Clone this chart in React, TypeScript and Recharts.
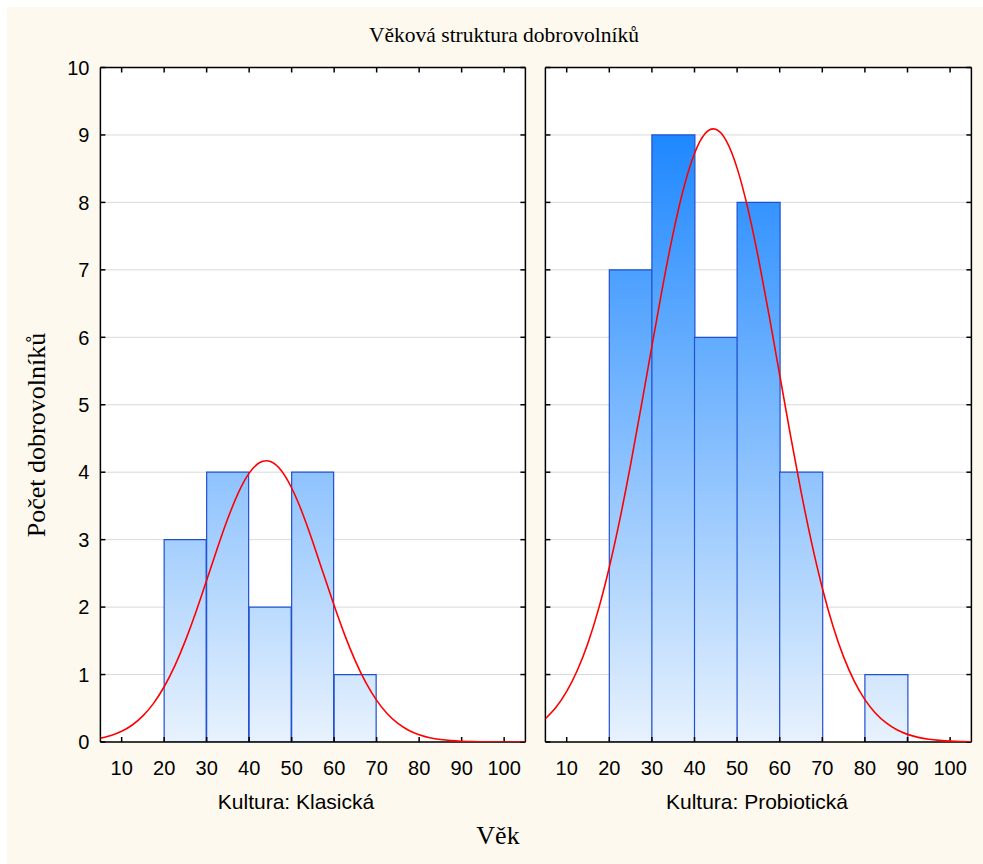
import React from 'react';
import { ComposedChart, LineChart, Bar, Line, XAxis, YAxis, CartesianGrid, ReferenceLine } from 'recharts';

// ---- data ----
const titleText = 'Věková struktura dobrovolníků';
const yAxisTitle = 'Počet dobrovolníků';
const xAxisTitle = 'Věk';
const panelLabels = ['Kultura: Klasická', 'Kultura: Probiotická'];

const klasickaBinCenters = [25, 35, 45, 55, 65];
const klasickaCounts = [3, 4, 2, 4, 1];
const probiotickaBinCenters = [25, 35, 45, 55, 65, 75, 85];
const probiotickaCounts = [7, 9, 6, 8, 4, 0, 1];

const curveX = [5, 7.5, 10, 12.5, 15, 17.5, 20, 22.5, 25, 27.5, 30, 32.5, 35, 37.5, 40, 42.5, 45, 47.5, 50, 52.5, 55, 57.5, 60, 62.5, 65, 67.5, 70, 72.5, 75, 77.5, 80, 82.5, 85, 87.5, 90, 92.5, 95, 97.5, 100, 102.5, 105];
const klasickaCurve = [0.057, 0.097, 0.159, 0.252, 0.387, 0.573, 0.819, 1.129, 1.503, 1.931, 2.397, 2.869, 3.316, 3.7, 3.986, 4.144, 4.158, 4.028, 3.766, 3.4, 2.962, 2.491, 2.022, 1.585, 1.199, 0.875, 0.617, 0.42, 0.276, 0.175, 0.107, 0.063, 0.036, 0.02, 0.011, 0.005, 0.003, 0.001, 0.001, 0, 0];
const probiotickaCurve = [0.345, 0.515, 0.75, 1.064, 1.469, 1.977, 2.591, 3.307, 4.111, 4.979, 5.87, 6.744, 7.545, 8.222, 8.726, 9.021, 9.083, 8.908, 8.508, 7.916, 7.173, 6.33, 5.441, 4.556, 3.715, 2.952, 2.284, 1.72, 1.262, 0.903, 0.628, 0.426, 0.282, 0.181, 0.113, 0.069, 0.041, 0.024, 0.013, 0.007, 0.004];

const xTicks = [10, 20, 30, 40, 50, 60, 70, 80, 90, 100];
const yTicks = [0, 1, 2, 3, 4, 5, 6, 7, 8, 9, 10];
const xDomain: [number, number] = [5, 105];
const yDomain: [number, number] = [0, 10];

// ---- layout constants ----
const SVG_H = 800;
const PLOT_TOP = 67.5;
const PLOT_BOTTOM = 742;
const BOTTOM_AXIS_H = 40;
const Y_AXIS_W = 60;
const TICK_LEN = 5;

const sans = '"Liberation Sans", Arial, Helvetica, sans-serif';
const serif = '"Liberation Serif", "Times New Roman", Times, serif';

type PanelProps = {
  left: number;
  width: number;
  plotLeft: number;
  plotRight: number;
  showYLabels: boolean;
  bins: number[];
  counts: number[];
  curve: number[];
  gid: string;
};

function Panel({ left, width, plotLeft, plotRight, showYLabels, bins, counts, curve, gid }: PanelProps) {
  const barData = bins.map((b, i) => ({ x: b, count: counts[i] }));
  const lineData = curveX.map((x, i) => ({ x, y: curve[i] }));
  const yw = showYLabels ? Y_AXIS_W : 1;
  const pl = plotLeft - left; // plot left in svg coords
  const pr = plotRight - left; // plot right in svg coords
  const margin = {
    top: PLOT_TOP,
    bottom: SVG_H - PLOT_BOTTOM - BOTTOM_AXIS_H,
    left: pl - yw,
    right: width - pr,
  };
  const overlayMargin = {
    top: PLOT_TOP,
    bottom: SVG_H - PLOT_BOTTOM,
    left: pl,
    right: width - pr,
  };

  const renderXTick = (p: any) => {
    const cx = p.payload && typeof p.payload.coordinate === 'number' ? p.payload.coordinate : p.x;
    return (
      <g key={`xt-${p.payload?.value}`}>
        <line x1={cx} x2={cx} y1={PLOT_BOTTOM} y2={PLOT_BOTTOM - TICK_LEN} stroke="#000" strokeWidth={1.5} />
        <line x1={cx} x2={cx} y1={PLOT_TOP} y2={PLOT_TOP + TICK_LEN} stroke="#000" strokeWidth={1.5} />
        <text x={cx} y={774.5} textAnchor="middle" fill="#000" fontSize={20} fontFamily={sans}>
          {p.payload?.value}
        </text>
      </g>
    );
  };

  const renderYTick = (p: any) => {
    const cy = p.payload && typeof p.payload.coordinate === 'number' ? p.payload.coordinate : p.y;
    return (
      <g key={`yt-${p.payload?.value}`}>
        <line x1={pl} x2={pl + TICK_LEN} y1={cy} y2={cy} stroke="#000" strokeWidth={1.5} />
        <line x1={pr - TICK_LEN} x2={pr} y1={cy} y2={cy} stroke="#000" strokeWidth={1.5} />
        {showYLabels ? (
          <text x={pl - 11} y={cy} dy="0.36em" textAnchor="end" fill="#000" fontSize={20} fontFamily={sans}>
            {p.payload?.value}
          </text>
        ) : null}
      </g>
    );
  };

  const frame = { stroke: '#000', strokeWidth: 1.5 };

  return (
    <>
      <div style={{ position: 'absolute', left: plotLeft, top: PLOT_TOP, width: plotRight - plotLeft, height: PLOT_BOTTOM - PLOT_TOP, background: '#FFFFFF' }} />
      <div style={{ position: 'absolute', left, top: 0 }}>
        <ComposedChart width={width} height={SVG_H} data={barData} margin={margin} barCategoryGap={0} barGap={0}>
          <defs>
            <linearGradient id={gid} x1={0} y1={PLOT_TOP} x2={0} y2={PLOT_BOTTOM} gradientUnits="userSpaceOnUse">
              <stop offset="0%" stopColor="#087CFF" />
              <stop offset="100%" stopColor="#E8F2FD" />
            </linearGradient>
          </defs>
          <CartesianGrid vertical={false} stroke="#D9D9D9" strokeWidth={1} />
          <XAxis
            dataKey="x"
            type="number"
            domain={xDomain}
            ticks={xTicks}
            allowDataOverflow
            height={BOTTOM_AXIS_H}
            tickSize={0}
            axisLine={false}
            tickLine={false}
            tick={renderXTick}
            interval={0}
          />
          <YAxis
            type="number"
            domain={yDomain}
            ticks={yTicks}
            allowDataOverflow
            width={yw}
            tickSize={0}
            axisLine={false}
            tickLine={false}
            tick={renderYTick}
            interval={0}
          />
          <Bar
            dataKey="count"
            fill={`url(#${gid})`}
            stroke="#1F50D0"
            strokeWidth={1.2}
            isAnimationActive={false}
          />
          <ReferenceLine x={xDomain[0]} {...frame} />
          <ReferenceLine x={xDomain[1]} {...frame} />
          <ReferenceLine y={yDomain[0]} {...frame} />
          <ReferenceLine y={yDomain[1]} {...frame} />
        </ComposedChart>
      </div>
      <div style={{ position: 'absolute', left, top: 0 }}>
        <LineChart width={width} height={SVG_H} data={lineData} margin={overlayMargin}>
          <XAxis dataKey="x" type="number" domain={xDomain} allowDataOverflow hide />
          <YAxis type="number" domain={yDomain} allowDataOverflow hide />
          <Line
            dataKey="y"
            type="natural"
            stroke="#FF0000"
            strokeWidth={1.6}
            dot={false}
            activeDot={false}
            isAnimationActive={false}
          />
        </LineChart>
      </div>
    </>
  );
}

export default function App() {
  return (
    <div style={{ position: 'absolute', left: 0, top: 0, width: 983, height: 864, background: '#FFFFFF', overflow: 'hidden' }}>
      <div style={{ position: 'absolute', left: 7, top: 7, right: 0, bottom: 0, background: '#FEF9EE' }} />
      <Panel
        left={0}
        width={540}
        plotLeft={100.4}
        plotRight={525.4}
        showYLabels
        bins={klasickaBinCenters}
        counts={klasickaCounts}
        curve={klasickaCurve}
        gid="gradL"
      />
      <Panel
        left={530}
        width={453}
        plotLeft={545.4}
        plotRight={971.4}
        showYLabels={false}
        bins={probiotickaBinCenters}
        counts={probiotickaCounts}
        curve={probiotickaCurve}
        gid="gradR"
      />
      <div style={{ position: 'absolute', left: 504, top: 35, transform: 'translate(-50%, -50%)', fontFamily: serif, fontSize: 21.5, whiteSpace: 'nowrap', color: '#000' }}>
        {titleText}
      </div>
      <div style={{ position: 'absolute', left: 37, top: 435, transform: 'translate(-50%, -50%) rotate(-90deg)', fontFamily: serif, fontSize: 26, whiteSpace: 'nowrap', color: '#000' }}>
        {yAxisTitle}
      </div>
      <div style={{ position: 'absolute', left: 296, top: 802, transform: 'translate(-50%, -50%)', fontFamily: sans, fontSize: 21, whiteSpace: 'nowrap', color: '#000' }}>
        {panelLabels[0]}
      </div>
      <div style={{ position: 'absolute', left: 757, top: 802, transform: 'translate(-50%, -50%)', fontFamily: sans, fontSize: 21, whiteSpace: 'nowrap', color: '#000' }}>
        {panelLabels[1]}
      </div>
      <div style={{ position: 'absolute', left: 498, top: 836, transform: 'translate(-50%, -50%)', fontFamily: serif, fontSize: 26, whiteSpace: 'nowrap', color: '#000' }}>
        {xAxisTitle}
      </div>
    </div>
  );
}
